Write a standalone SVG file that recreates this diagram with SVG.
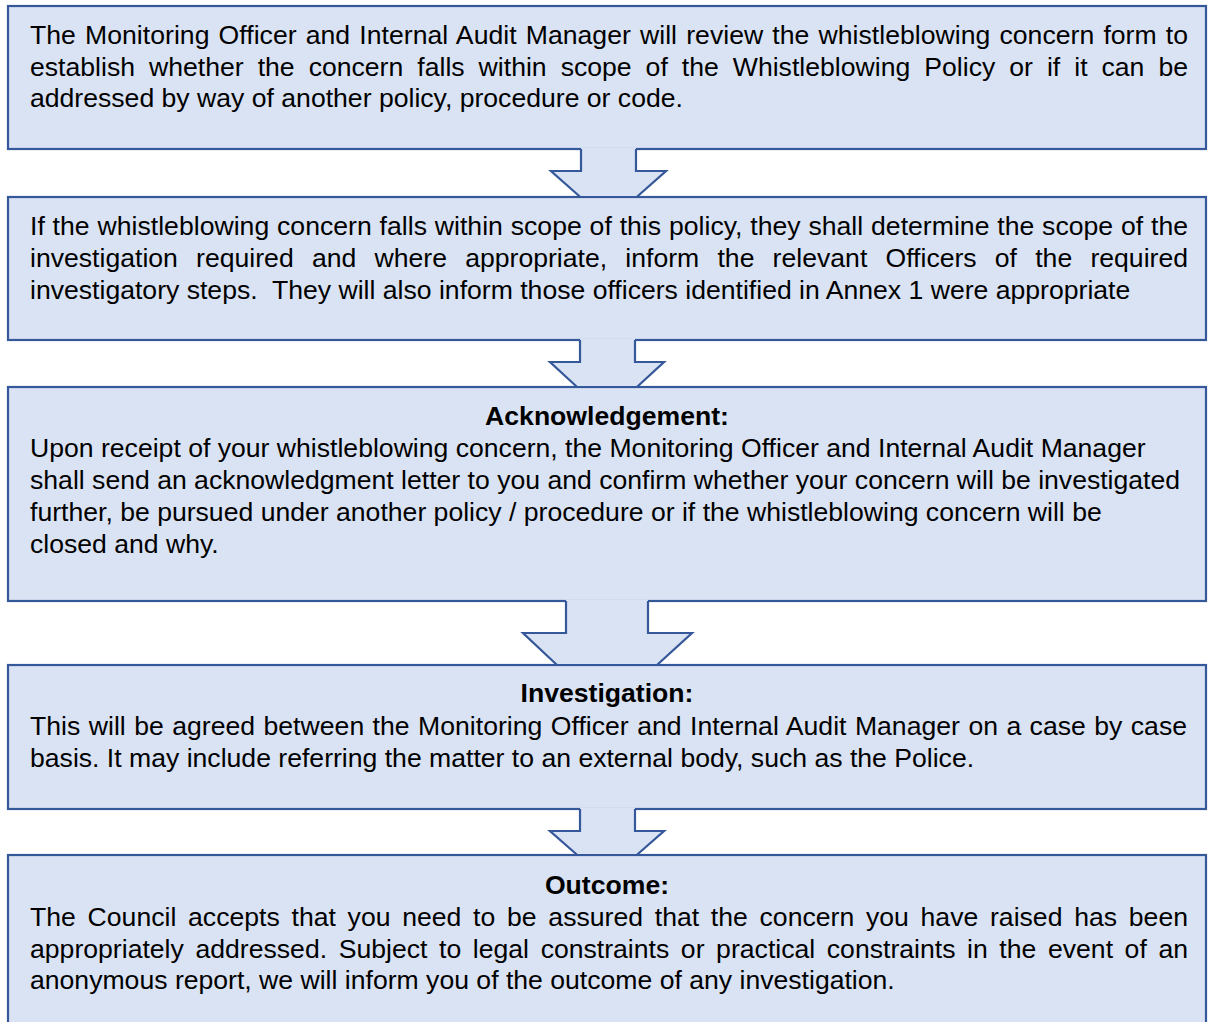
<svg xmlns="http://www.w3.org/2000/svg" width="1208" height="1022" viewBox="0 0 1208 1022">
  <style>
    .box { fill: #DAE3F3; stroke: #35589A; stroke-width: 2.2; }
    .arrow-fill { fill: #DAE3F3; stroke: none; }
    .arrow-line { fill: none; stroke: #35589A; stroke-width: 2.2; stroke-linejoin: miter; }
    text { font-family: "Liberation Sans", Arial, sans-serif; font-size: 26.6px; fill: #000; }
    .title { font-weight: bold; text-anchor: middle; }
  </style>
  <rect width="1208" height="1022" fill="#FFFFFF"/>

  <!-- Step 1: initial review -->
  <g id="review">
    <rect class="box" x="8" y="6" width="1198" height="143"/>
    <text x="30" y="44" textLength="1158" lengthAdjust="spacing" word-spacing="1.7">The Monitoring Officer and Internal Audit Manager will review the whistleblowing concern form to</text>
    <text x="30" y="76" textLength="1158" lengthAdjust="spacing" word-spacing="6.6">establish whether the concern falls within scope of the Whistleblowing Policy or if it can be</text>
    <text x="30" y="107">addressed by way of another policy, procedure or code.</text>
  </g>

  <!-- Step 2: scope of investigation -->
  <g id="scope">
    <rect class="box" x="8" y="197" width="1198" height="143"/>
    <text x="30" y="235" textLength="1158" lengthAdjust="spacing" word-spacing="0.4">If the whistleblowing concern falls within scope of this policy, they shall determine the scope of the</text>
    <text x="30" y="267" textLength="1158" lengthAdjust="spacing" word-spacing="10.8">investigation required and where appropriate, inform the relevant Officers of the required</text>
    <text x="30" y="299">investigatory steps.&#160; They will also inform those officers identified in Annex 1 were appropriate</text>
  </g>

  <!-- Step 3: acknowledgement -->
  <g id="acknowledgement">
    <rect class="box" x="8" y="387" width="1198" height="214"/>
    <text class="title" x="607" y="425">Acknowledgement:</text>
    <text x="30" y="457">Upon receipt of your whistleblowing concern, the Monitoring Officer and Internal Audit Manager</text>
    <text x="30" y="489">shall send an acknowledgment letter to you and confirm whether your concern will be investigated</text>
    <text x="30" y="521">further, be pursued under another policy / procedure or if the whistleblowing concern will be</text>
    <text x="30" y="553">closed and why.</text>
  </g>

  <!-- Step 4: investigation -->
  <g id="investigation">
    <rect class="box" x="8" y="665" width="1198" height="144"/>
    <text class="title" x="607" y="702">Investigation:</text>
    <text x="30" y="735" textLength="1157" lengthAdjust="spacing" word-spacing="1">This will be agreed between the Monitoring Officer and Internal Audit Manager on a case by case</text>
    <text x="30" y="767">basis. It may include referring the matter to an external body, such as the Police.</text>
  </g>

  <!-- Step 5: outcome (runs past the lower edge) -->
  <g id="outcome">
    <rect class="box" x="8" y="855" width="1198" height="180"/>
    <text class="title" x="607" y="894">Outcome:</text>
    <text x="30" y="926" textLength="1158" lengthAdjust="spacing" word-spacing="4.3">The Council accepts that you need to be assured that the concern you have raised has been</text>
    <text x="30" y="958" textLength="1158" lengthAdjust="spacing" word-spacing="4.2">appropriately addressed. Subject to legal constraints or practical constraints in the event of an</text>
    <text x="30" y="989">anonymous report, we will inform you of the outcome of any investigation.</text>
  </g>

  <!-- Block arrows between steps; each is a fill plus an open outline -->
  <g id="connectors">
    <g id="arrow-1">
      <polygon class="arrow-fill" points="581,147.6 581,171 551,171 579.4,196 637.6,196 666,171 636,171 636,147.6"/>
      <path class="arrow-line" d="M581,149 V171 H551 L580.3,197 M636.7,197 L666,171 H636 V149"/>
    </g>
    <g id="arrow-2">
      <polygon class="arrow-fill" points="580,338.6 580,362 550,362 576.2,386 637.8,386 664,362 635,362 635,338.6"/>
      <path class="arrow-line" d="M580,340 V362 H550 L577.1,387 M636.9,387 L664,362 H635 V340"/>
    </g>
    <g id="arrow-3">
      <polygon class="arrow-fill" points="566,599.6 566,633 523,633 556,664 658,664 692,633 648,633 648,599.6"/>
      <path class="arrow-line" d="M566,601 V633 H523 L557,665 M657,665 L692,633 H648 V601"/>
    </g>
    <g id="arrow-4">
      <polygon class="arrow-fill" points="580,807.6 580,831 550,831 576.2,854 637.8,854 664,831 635,831 635,807.6"/>
      <path class="arrow-line" d="M580,809 V831 H550 L577.3,855 M636.7,855 L664,831 H635 V809"/>
    </g>
  </g>
</svg>
